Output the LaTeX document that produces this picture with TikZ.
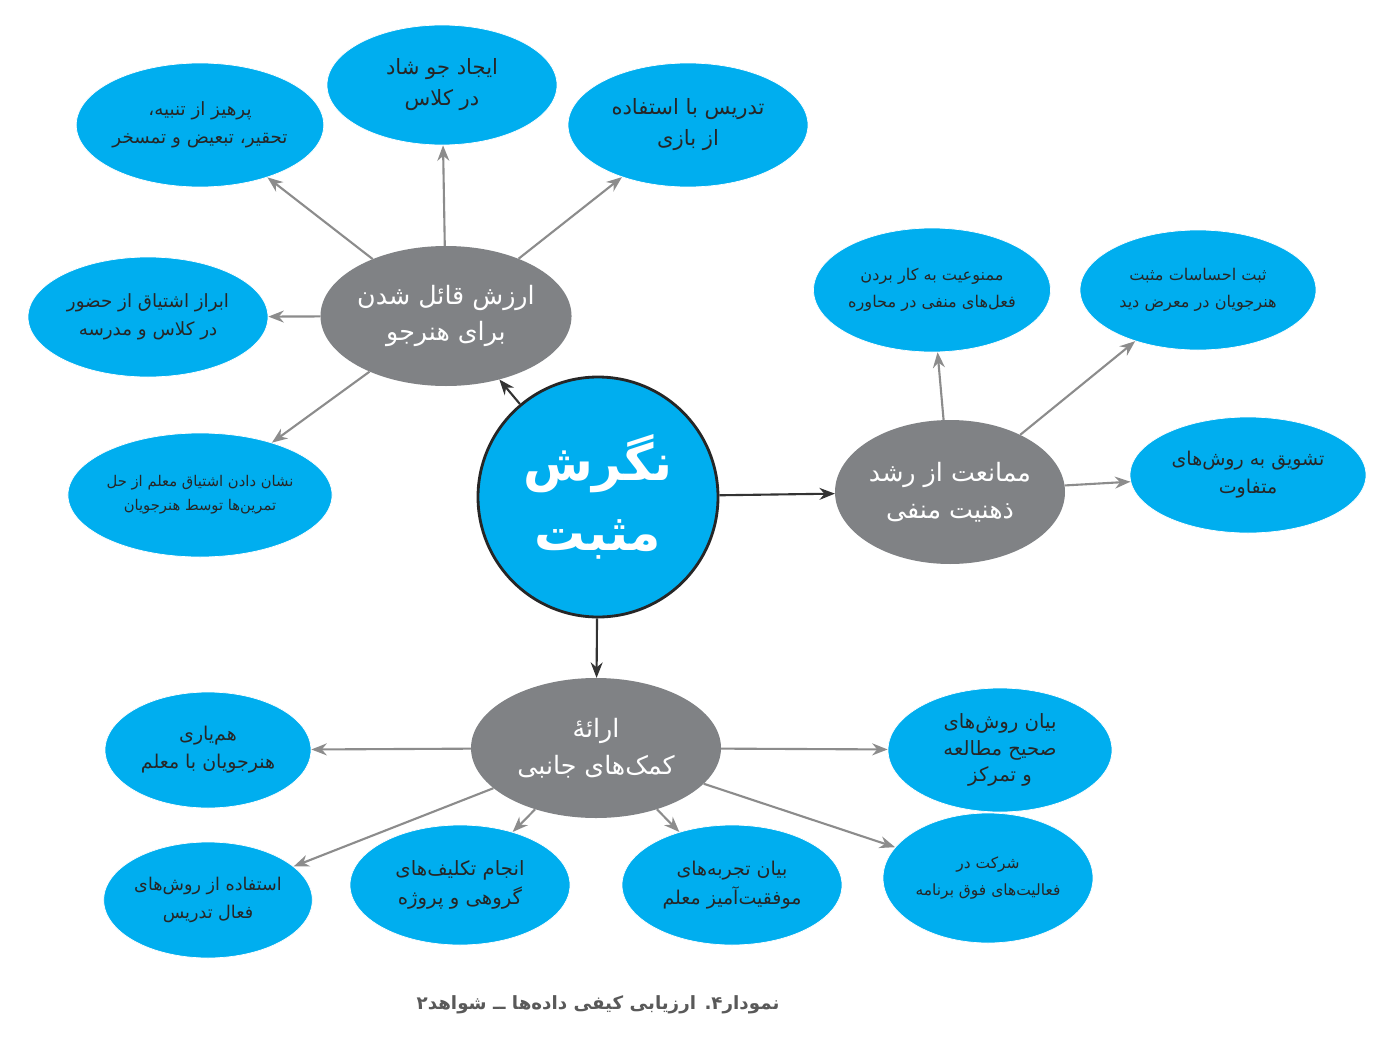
\documentclass[tikz,border=0pt]{standalone}
\usepackage{fontspec}
\usetikzlibrary{shapes.geometric,arrows.meta}
\TeXXeTstate=1
\newfontfamily\arabicfont[Script=Arabic]{DejaVu Sans}
\newcommand{\fa}[1]{{\arabicfont\beginR #1\endR}}
\definecolor{cy}{HTML}{00AEEF}
\definecolor{gr}{HTML}{808285}
\definecolor{ar}{HTML}{8C8C8C}
\tikzset{
 blu/.style={ellipse,fill=cy,draw=white,line width=1pt,inner sep=0pt,align=center,font=\fontsize{30}{44}\selectfont,text=black!85},
 gry/.style={ellipse,fill=gr,inner sep=0pt,align=center,font=\fontsize{36}{52}\selectfont,text=white},
 garr/.style={draw=ar,line width=3pt,-{Stealth[length=22pt,width=17pt]}},
 darr/.style={draw=black!80,line width=3pt,-{Stealth[length=22pt,width=17pt]}}
}
\begin{document}
\begin{tikzpicture}[x=0.05cm,y=-0.05cm]
\useasboundingbox[fill=white] (0,0) rectangle (1388,1046);
\node[circle,fill=cy,draw=black!85,line width=4pt,minimum size=12cm,inner sep=0pt,align=center,font=\fontsize{72}{100}\selectfont\bfseries,text=white] (c) at (598,497) {\fa{نگرش}\\\fa{مثبت}};
\node[gry,minimum width=11.7cm,minimum height=7cm] (A) at (446,316) {\fa{ارزش قائل شدن}\\\fa{برای هنرجو}};
\node[gry,minimum width=11.5cm,minimum height=7.2cm] (B) at (950,492) {\fa{ممانعت از رشد}\\\fa{ذهنیت منفی}};
\node[gry,minimum width=12.5cm,minimum height=7cm] (C) at (596,748) {\fa{ارائهٔ}\\\fa{کمک^^^^200cهای جانبی}};
\node[blu,minimum width=12cm,minimum height=6.2cm,font=\fontsize{26}{40}\selectfont] (a1) at (200,125) {\fa{پرهیز از تنبیه،}\\\fa{تحقیر، تبعیض و تمسخر}};
\node[blu,minimum width=11.5cm,minimum height=6cm] (a2) at (442,85) {\fa{ایجاد جو شاد}\\\fa{در کلاس}};
\node[blu,minimum width=12cm,minimum height=6.2cm] (a3) at (688,125) {\fa{تدریس با استفاده}\\\fa{از بازی}};
\node[blu,minimum width=12cm,minimum height=6cm,font=\fontsize{26}{40}\selectfont] (a4) at (148,317) {\fa{ابراز اشتیاق از حضور}\\\fa{در کلاس و مدرسه}};
\node[blu,minimum width=11.8cm,minimum height=6.2cm,font=\fontsize{21}{34}\selectfont] (a5) at (200,495) {\fa{نشان دادن اشتیاق معلم از حل}\\\fa{تمرین^^^^200cها توسط هنرجویان}};
\node[blu,minimum width=11.5cm,minimum height=6.2cm,font=\fontsize{23}{38}\selectfont] (b1) at (932,290) {\fa{ممنوعیت به کار بردن}\\\fa{فعل^^^^200cهای منفی در محاوره}};
\node[blu,minimum width=11.8cm,minimum height=6cm,font=\fontsize{23}{38}\selectfont] (b2) at (1198,290) {\fa{ثبت احساسات مثبت}\\\fa{هنرجویان در معرض دید}};
\node[blu,minimum width=11.8cm,minimum height=5.8cm,font=\fontsize{27}{40}\selectfont] (b3) at (1248,475) {\fa{تشویق به روش^^^^200cهای}\\\fa{متفاوت}};
\node[blu,minimum width=10.3cm,minimum height=5.8cm,font=\fontsize{27}{40}\selectfont] (c1) at (208,750) {\fa{هم^^^^200cیاری}\\\fa{هنرجویان با معلم}};
\node[blu,minimum width=11.2cm,minimum height=6.2cm,font=\fontsize{28}{38}\selectfont] (c2) at (1000,750) {\fa{بیان روش^^^^200cهای}\\\fa{صحیح مطالعه}\\\fa{و تمرکز}};
\node[blu,minimum width=10.3cm,minimum height=5.8cm,font=\fontsize{25}{40}\selectfont] (c3) at (208,900) {\fa{استفاده از روش^^^^200cهای}\\\fa{فعال تدریس}};
\node[blu,minimum width=11cm,minimum height=6cm,font=\fontsize{28}{42}\selectfont] (c4) at (460,885) {\fa{انجام تکلیف^^^^200cهای}\\\fa{گروهی و پروژه}};
\node[blu,minimum width=11cm,minimum height=6cm,font=\fontsize{27}{42}\selectfont] (c5) at (732,885) {\fa{بیان تجربه^^^^200cهای}\\\fa{موفقیت^^^^200cآمیز معلم}};
\node[blu,minimum width=10.5cm,minimum height=6.5cm,font=\fontsize{22}{38}\selectfont] (c6) at (988,878) {\fa{شرکت در}\\\fa{فعالیت^^^^200cهای فوق برنامه}};
\node[font=\fontsize{26}{32}\selectfont\bfseries,text=black!65] (cap) at (598,1005) {\fa{نمودار۴. ارزیابی کیفی داده^^^^200cها ــ شواهد۲}};
\draw[darr] (c) -- (A);
\draw[darr] (c) -- (B);
\draw[darr] (c) -- (C);
\foreach \t in {a1,a2,a3,a4,a5} \draw[garr] (A) -- (\t);
\foreach \t in {b1,b2,b3} \draw[garr] (B) -- (\t);
\foreach \t in {c1,c2,c3,c4,c5,c6} \draw[garr] (C) -- (\t);
\end{tikzpicture}
\end{document}
